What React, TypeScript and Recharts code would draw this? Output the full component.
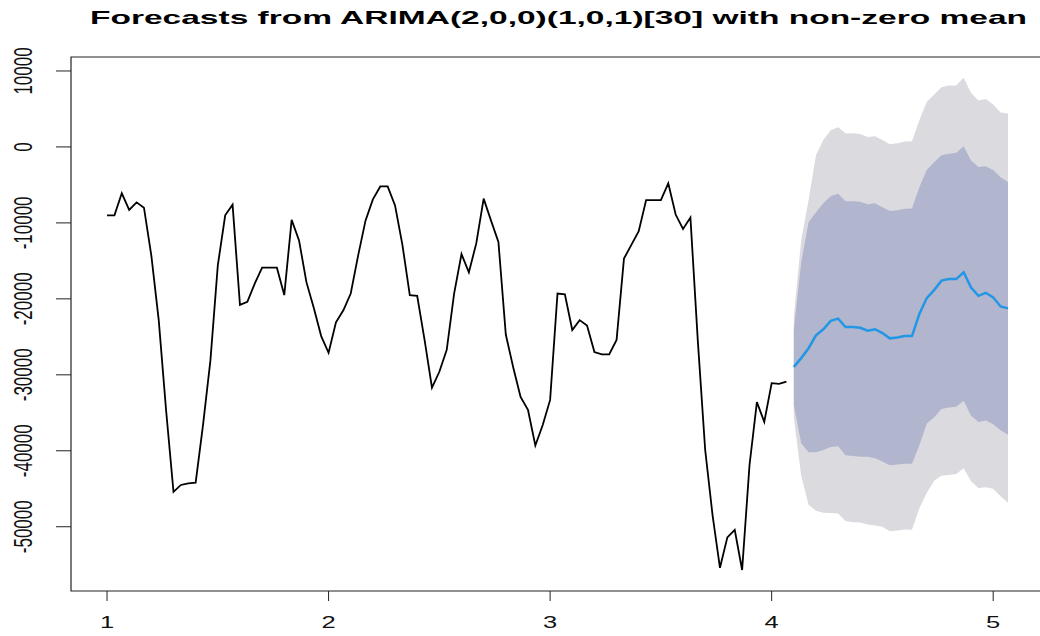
import { ComposedChart, Line, Area, XAxis, YAxis, ReferenceArea } from "recharts";

// series starts at t = 1, frequency 30
const START = 1;
const FREQ = 30;

const observed = [
  -9000, -9000, -6100, -8300, -7300, -8000, -14300, -22800, -34700, -45400,
  -44500, -44300, -44200, -36600, -28100, -15600, -9000, -7600, -20800, -20400,
  -18000, -15900, -15900, -15900, -19500, -9600, -12300, -17800, -21200, -24900,
  -27100, -23100, -21500, -19300, -14300, -9700, -6900, -5200, -5200, -7700,
  -12900, -19500, -19600, -25400, -31700, -29600, -26700, -19300, -14100, -16500,
  -12700, -6800, -9700, -12500, -24700, -29000, -32900, -34600, -39300, -36600,
  -33300, -19300, -19400, -24100, -22800, -23500, -27000, -27300, -27300, -25400,
  -14700, -12900, -11100, -7000, -7000, -7000, -4800, -8900, -10800, -9300,
  -25500, -39900, -48500, -55400, -51400, -50400, -55700, -41900, -33600, -36200,
  -31100, -31200, -30900,
];

const fcMean = [
  -28950, -27800, -26500, -24800, -24000, -22900, -22600, -23700, -23700, -23800,
  -24200, -24000, -24500, -25200, -25100, -24900, -24900, -22000, -19900, -18850,
  -17600, -17400, -17400, -16500, -18500, -19600, -19200, -19800, -21000, -21250,
];
const fcHi80 = [
  -24100, -15200, -9900, -8600, -7400, -6500, -6150, -7150, -7150, -7200,
  -7550, -7400, -7950, -8450, -8350, -8150, -8100, -5300, -3050, -2000,
  -1100, -900, -750, 100, -1800, -2650, -2550, -3050, -4000, -4600,
];
const fcLo80 = [
  -34000, -39000, -40200, -40200, -39900, -39500, -39400, -40600, -40700, -40800,
  -40800, -41000, -41400, -41900, -41800, -41700, -41700, -39300, -36400, -35600,
  -34500, -34300, -34200, -33400, -35400, -36200, -36000, -36500, -37300, -37900,
];
const fcHi95 = [
  -22300, -12300, -7000, -1100, 900, 2200, 2600, 1800, 1800, 1700,
  1300, 1400, 900, 350, 500, 700, 750, 3500, 5900, 6900,
  7850, 8100, 8100, 9100, 7100, 6100, 6300, 5600, 4550, 4400,
];
const fcLo95 = [
  -35600, -43300, -47100, -47900, -48150, -48200, -48250, -49250, -49400, -49450,
  -49700, -49850, -50000, -50600, -50500, -50350, -50400, -47550, -45550, -43950,
  -43300, -43200, -43050, -42300, -44000, -44900, -44800, -45000, -46000, -46850,
];

const xTicks = [1, 2, 3, 4, 5];
const yTicks = [-50000, -40000, -30000, -20000, -10000, 0, 10000];

const TITLE = "Forecasts from ARIMA(2,0,0)(1,0,1)[30] with non-zero mean";
const FONT = "'Liberation Sans', Arial, sans-serif";

const data = [
  ...observed.map((v, i) => ({ t: START + i / FREQ, obs: v })),
  ...fcMean.map((v, j) => ({
    t: START + (observed.length + j) / FREQ,
    mean: v,
    b80: [fcLo80[j], fcHi80[j]],
    b95: [fcLo95[j], fcHi95[j]],
  })),
];

// R pads the data range by 4% on each side
const tEnd = START + (observed.length + fcMean.length - 1) / FREQ;
const pad = (tEnd - START) * 0.04;
const X_DOMAIN: [number, number] = [START - pad, tEnd + pad];
const Y_DOMAIN: [number, number] = [-58460, 11840];

function XTick(props: any) {
  const { x, payload } = props;
  return (
    <text
      transform={`translate(${x},628) scale(1.5,1)`}
      textAnchor="middle"
      fontFamily={FONT}
      fontSize={17}
      fill="#111"
    >
      {payload.value}
    </text>
  );
}

function YTick(props: any) {
  const { y, payload } = props;
  return (
    <text
      transform={`translate(32,${y}) scale(1.5,1) rotate(-90)`}
      textAnchor="middle"
      fontFamily={FONT}
      fontSize={17}
      fill="#111"
    >
      {payload.value}
    </text>
  );
}

export default function App() {
  return (
    <div
      style={{
        width: 1040,
        height: 636,
        overflow: "hidden",
        position: "relative",
        background: "#fff",
      }}
    >
      <style>{"body{margin:0}"}</style>
      <svg
        width={1040}
        height={40}
        style={{ position: "absolute", left: 0, top: 0 }}
      >
        <text
          x={90}
          y={24}
          textLength={937}
          lengthAdjust="spacingAndGlyphs"
          fontFamily={FONT}
          fontWeight="bold"
          fontSize={19}
          fill="#000"
        >
          {TITLE}
        </text>
      </svg>
      <ComposedChart
        width={1048}
        height={636}
        data={data}
        margin={{ top: 57, right: 4, bottom: 0, left: 0 }}
      >
        <XAxis
          dataKey="t"
          type="number"
          domain={X_DOMAIN}
          ticks={xTicks}
          interval={0}
          allowDataOverflow
          height={45}
          tickSize={10}
          axisLine={false}
          tickLine={{ stroke: "#222" }}
          tick={<XTick />}
        />
        <YAxis
          type="number"
          domain={Y_DOMAIN}
          ticks={yTicks}
          interval={0}
          allowDataOverflow
          width={71}
          tickSize={15}
          axisLine={false}
          tickLine={{ stroke: "#222" }}
          tick={<YTick />}
        />
        <Area
          type="linear"
          dataKey="b95"
          stroke="none"
          fill="#DBDBDF"
          fillOpacity={1}
          dot={false}
          activeDot={false}
          isAnimationActive={false}
        />
        <Area
          type="linear"
          dataKey="b80"
          stroke="none"
          fill="#B1B5CE"
          fillOpacity={1}
          dot={false}
          activeDot={false}
          isAnimationActive={false}
        />
        <Line
          type="linear"
          dataKey="obs"
          stroke="#000"
          strokeWidth={1.8}
          dot={false}
          activeDot={false}
          isAnimationActive={false}
        />
        <Line
          type="linear"
          dataKey="mean"
          stroke="#2297E6"
          strokeWidth={2.5}
          dot={false}
          activeDot={false}
          isAnimationActive={false}
        />
        <ReferenceArea
          x1={X_DOMAIN[0]}
          x2={X_DOMAIN[1]}
          y1={Y_DOMAIN[0]}
          y2={Y_DOMAIN[1]}
          fill="none"
          stroke="#222"
          strokeWidth={1.2}
          ifOverflow="visible"
        />
      </ComposedChart>
    </div>
  );
}
